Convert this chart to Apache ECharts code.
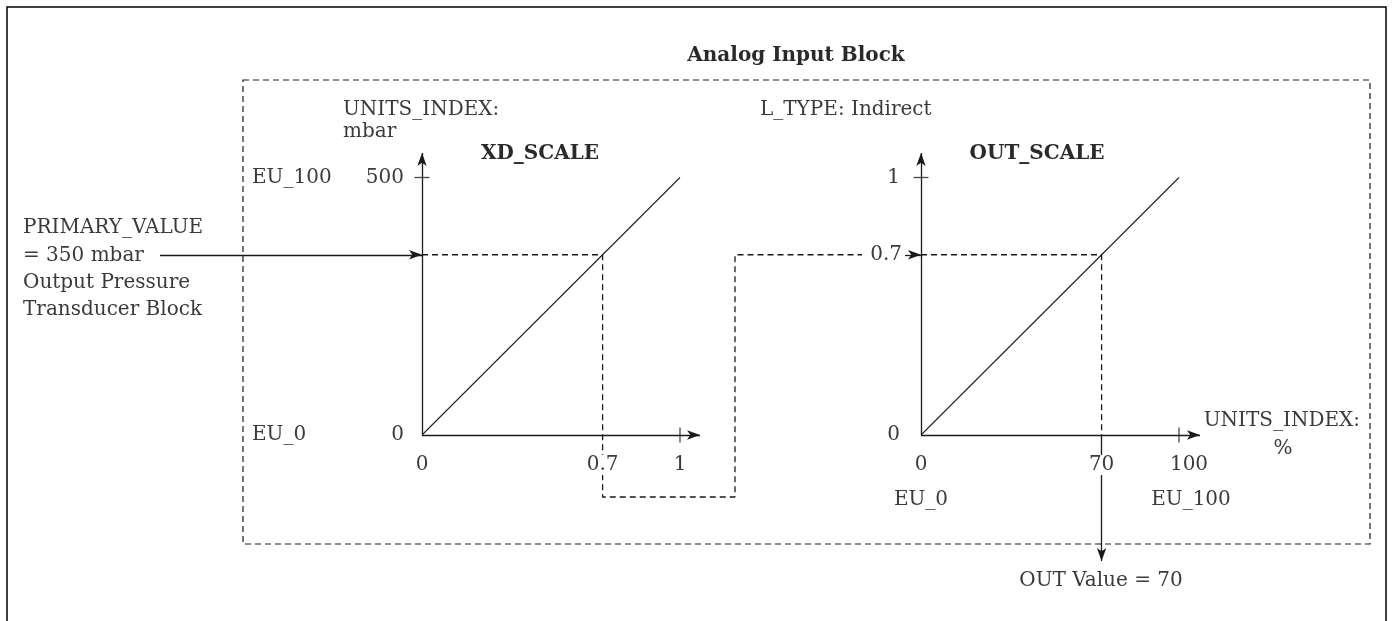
<!DOCTYPE html>
<html><head><meta charset="utf-8">
<script src="https://cdn.jsdelivr.net/npm/echarts@6/dist/echarts.min.js"></script>
<style>html,body{margin:0;padding:0;background:#fff}#c{width:1394px;height:621px}</style>
</head><body><div id="c"></div>
<script>
// ---------------- data ----------------
const xdXTicks = [0, 0.7, 1];
const xdYTicks = [0, 500];
const xdYEuLabels = ['EU_0', 'EU_100'];
const outXTicks = [0, 70, 100];
const outYTicks = [0, 1];
const outXEuLabels = ['EU_0', 'EU_100'];
const xdLine = [[0, 0], [1, 500]];
const outLine = [[0, 0], [100, 1]];
const primaryValue = 350;   // mbar
const fraction = 0.7;
const outValue = 70;        // %

// ---------------- layout ----------------
const FONT = 'DejaVu Serif';
const FS = 20;
const TXT = '#3a3a3a', LN = '#1a1a1a';
const O1 = [422, 435], O2 = [921, 435];   // origins (px)
const UX = 258, UY = 257.5;               // px per full scale
// px -> data helpers (layout of the routing lines / arrows)
const px1x = p => (p - O1[0]) / UX * 1;
const px1y = p => (O1[1] - p) / UY * 500;
const px2x = p => (p - O2[0]) / UX * 100;
const px2y = p => (O2[1] - p) / UY * 1;

const G1 = {l: 150, r: 880, t: 140, b: 510};
const G2 = {l: 880, r: 1260, t: 140, b: 580};
const XLAB_GAP = 20, YLAB_GAP1 = 18, YLAB_GAP2 = 21;

const lab = (extra) => Object.assign({fontFamily: FONT, fontSize: FS, color: TXT}, extra);
const noLine = {show: false, onZero: false};

const grids = [
  {left: G1.l, top: G1.t, width: G1.r - G1.l, height: G1.b - G1.t, outerBoundsMode: 'none', containLabel: false},
  {left: G2.l, top: G2.t, width: G2.r - G2.l, height: G2.b - G2.t, outerBoundsMode: 'none', containLabel: false}
];

const baseAxis = {type: 'value', axisTick: {show: false}, splitLine: {show: false}, axisLine: noLine};
const xAxis = [
  Object.assign({}, baseAxis, {gridIndex: 0, position: 'bottom', min: px1x(G1.l), max: px1x(G1.r), z: 10,
    axisLabel: lab({customValues: xdXTicks, margin: O1[1] + XLAB_GAP - G1.b, backgroundColor: '#fff', padding: [0, 1],
      formatter: v => String(v)})}),
  Object.assign({}, baseAxis, {gridIndex: 1, position: 'bottom', min: px2x(G2.l), max: px2x(G2.r), z: 10,
    axisLabel: lab({customValues: outXTicks, margin: O2[1] + XLAB_GAP - G2.b, backgroundColor: '#fff', padding: [0, 2],
      formatter: v => v === 100 ? '{r|' + v + '}' : String(v),
      rich: {r: {fontFamily: FONT, fontSize: FS, color: TXT, padding: [0, 0, 0, 20]}}})}),
  Object.assign({}, baseAxis, {gridIndex: 1, position: 'bottom', min: px2x(G2.l), max: px2x(G2.r),
    axisLabel: lab({customValues: [outXTicks[0], outXTicks[2]], margin: O2[1] + 55 - G2.b,
      formatter: v => v === 100 ? '{r|' + outXEuLabels[1] + '}' : outXEuLabels[0],
      rich: {r: {fontFamily: FONT, fontSize: FS, color: TXT, padding: [0, 0, 0, 24]}}})})
];

const yAxis = [
  Object.assign({}, baseAxis, {gridIndex: 0, position: 'left', min: px1y(G1.b), max: px1y(G1.t),
    axisLabel: lab({customValues: xdYTicks, margin: G1.l - (O1[0] - YLAB_GAP1)})}),
  Object.assign({}, baseAxis, {gridIndex: 0, position: 'left', min: px1y(G1.b), max: px1y(G1.t),
    axisLabel: lab({customValues: xdYTicks, margin: G1.l - 252, align: 'left',
      formatter: v => xdYEuLabels[xdYTicks.indexOf(v)]})}),
  Object.assign({}, baseAxis, {gridIndex: 1, position: 'left', min: px2y(G2.b), max: px2y(G2.t),
    axisLabel: lab({customValues: outYTicks, margin: G2.l - (O2[0] - YLAB_GAP2)})})
];

const solid = {color: LN, width: 1.3, type: 'solid'};
const dashed = {color: LN, width: 1.3, type: [6, 4]};
const seg = (from, to, style, fromExtra) => [Object.assign({coord: from, lineStyle: style}, fromExtra || {}), {coord: to, lineStyle: style}];
const ml = (data) => ({silent: true, symbol: ['none', 'arrow'], symbolSize: [7, 13],
  emphasis: {disabled: true}, label: {show: false}, lineStyle: solid, data});

const series = [
  // XD_SCALE characteristic + axes + primary value arrow
  {type: 'line', xAxisIndex: 0, yAxisIndex: 0, data: xdLine, symbol: 'none', clip: false, silent: true,
   lineStyle: {color: '#222', width: 1.1}, z: 2,
   markLine: ml([
     seg([0, 0], [px1x(700), 0], solid),
     seg([0, 0], [0, px1y(153)], solid),
     seg([px1x(160), primaryValue], [0, primaryValue], solid)
   ])},
  // crossing ticks XD
  {type: 'scatter', xAxisIndex: 0, yAxisIndex: 0, silent: true, clip: false, itemStyle: {color: LN},
   data: [{value: [0, xdYTicks[1]], symbol: 'rect', symbolSize: [15, 1.3]},
          {value: [xdXTicks[2], 0], symbol: 'rect', symbolSize: [1.3, 15]}]},
  // dashed route XD -> OUT
  {type: 'line', xAxisIndex: 0, yAxisIndex: 0, symbol: 'none', clip: false, silent: true, lineStyle: dashed,
   data: [[0, primaryValue], [fraction, primaryValue], [fraction, px1y(497)], [px1x(735), px1y(497)],
          [px1x(735), primaryValue], [px1x(862), primaryValue]]},
  // OUT_SCALE characteristic + axes + arrows
  {type: 'line', xAxisIndex: 1, yAxisIndex: 2, data: outLine, symbol: 'none', clip: false, silent: true,
   lineStyle: {color: '#222', width: 1.1}, z: 2,
   markLine: ml([
     seg([0, 0], [px2x(1200), 0], solid),
     seg([0, 0], [0, px2y(153)], solid),
     seg([px2x(905), fraction], [0, fraction], solid,
         {label: {show: true, position: 'start', distance: 3, formatter: String(fraction),
                  fontFamily: FONT, fontSize: FS, color: TXT}}),
     seg([outValue, 0], [outValue, px2y(561)], solid)
   ])},
  {type: 'scatter', xAxisIndex: 1, yAxisIndex: 2, silent: true, clip: false, itemStyle: {color: LN},
   data: [{value: [0, outYTicks[1]], symbol: 'rect', symbolSize: [15, 1.3]},
          {value: [outXTicks[2], 0], symbol: 'rect', symbolSize: [1.3, 15]}]},
  {type: 'line', xAxisIndex: 1, yAxisIndex: 2, symbol: 'none', clip: false, silent: true, lineStyle: dashed,
   data: [[0, fraction], [outValue, fraction], [outValue, 0]]}
];

const T = (text, x, y, opts) => ({type: 'text', silent: true, z: 10, style: Object.assign({
  text, x, y, fill: TXT, font: `${FS}px "${FONT}"`, textAlign: 'left', textVerticalAlign: 'middle'}, opts || {})});
const B = (text, x, y) => T(text, x, y, {font: `bold ${FS}px "${FONT}"`, fill: '#2a2a2a', textAlign: 'center'});

const graphic = [
  {type: 'rect', silent: true, shape: {x: 7, y: 7, width: 1379, height: 700}, style: {fill: 'none', stroke: '#000', lineWidth: 1.5}},
  {type: 'rect', silent: true, shape: {x: 243, y: 80, width: 1127, height: 464}, style: {fill: 'none', stroke: LN, lineWidth: 1.2, lineDash: [6, 4]}},
  B('Analog Input Block', 796, 56),
  T('UNITS_INDEX:', 343, 110),
  T('mbar', 343, 132),
  T('L_TYPE: Indirect', 760, 110),
  B('XD_SCALE', 540, 154),
  B('OUT_SCALE', 1037, 154),
  T('PRIMARY_VALUE', 23, 228),
  T('= 350 mbar', 23, 256),
  T('Output Pressure', 23, 283),
  T('Transducer Block', 23, 310),
  T('UNITS_INDEX:', 1360, 421, {textAlign: 'right'}),
  T('%', 1283, 449, {textAlign: 'center'}),
  T('OUT Value = ' + outValue, 1101, 581, {textAlign: 'center'})
];

const chart = echarts.init(document.getElementById('c'), null, {renderer: 'canvas'});
chart.setOption({
  animation: false, backgroundColor: '#fff',
  grid: grids, xAxis, yAxis, series, graphic
});
</script></body></html>
